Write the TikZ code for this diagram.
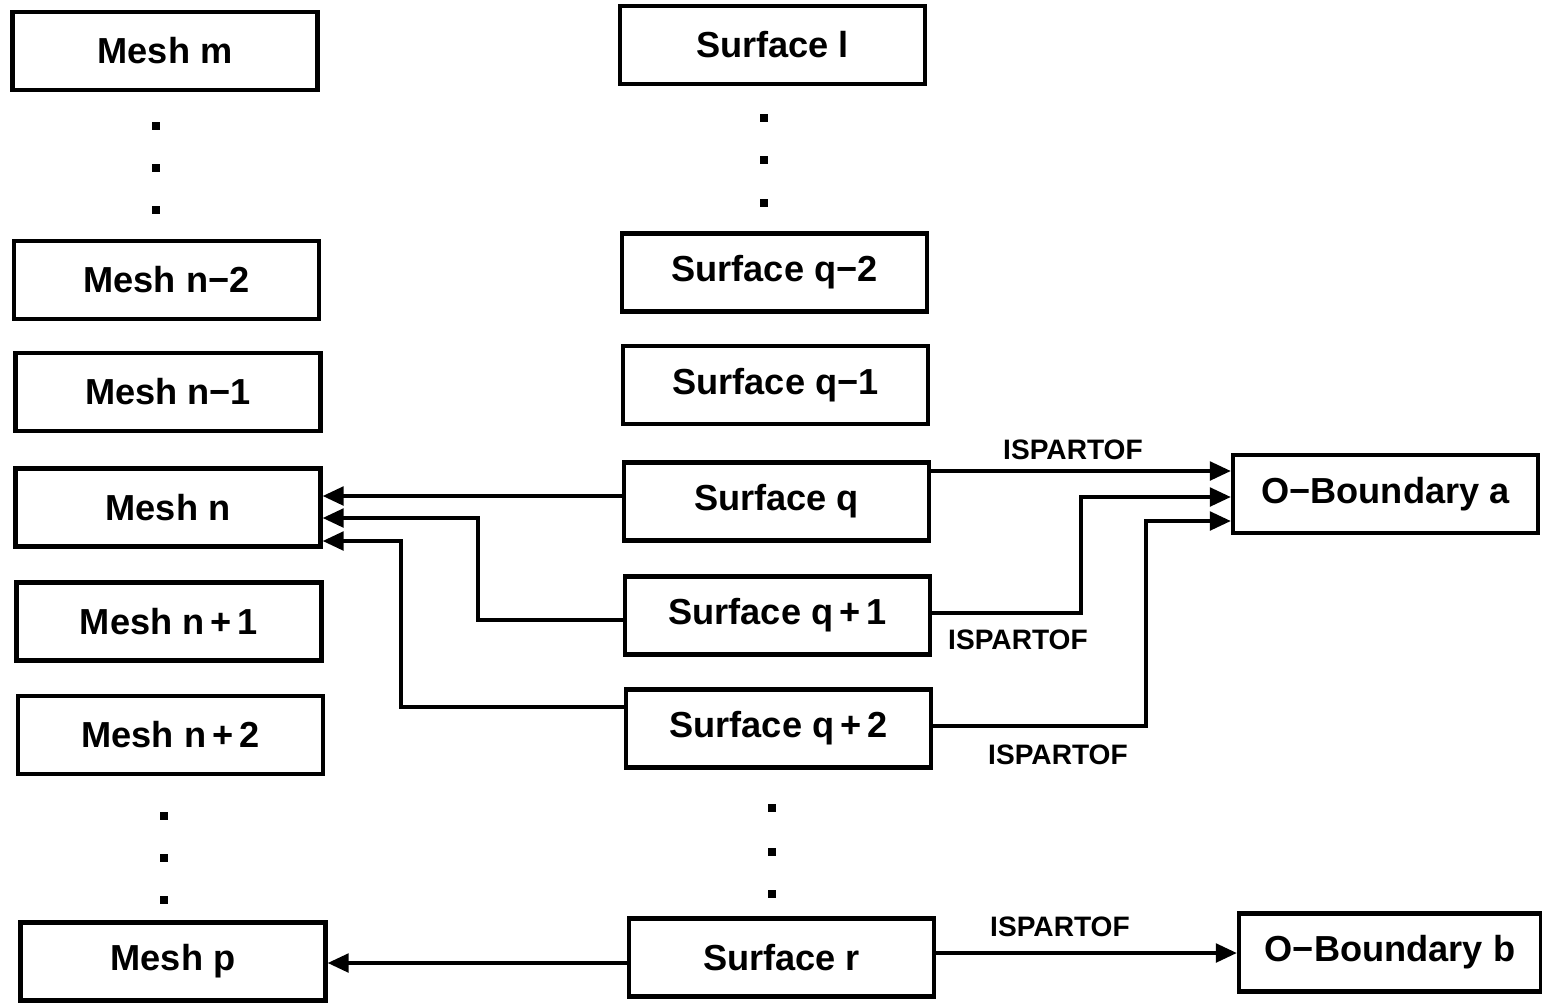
\documentclass[tikz,border=0pt]{standalone}
\usepackage{fontspec}
\setmainfont{Liberation Sans}
\usetikzlibrary{arrows.meta}
\begin{document}
\begin{tikzpicture}[x=0.02cm,y=-0.02cm,
  box/.style={draw,line width=2.4pt,minimum width=6.1cm,minimum height=1.56cm,inner sep=0pt,font=\fontsize{20.6}{24}\selectfont\bfseries},
  arr/.style={line width=2.3pt,-{Triangle[length=12pt,width=10.5pt]}},
  lbl/.style={font=\fontsize{16}{19}\selectfont\bfseries,inner sep=0pt},
  dot/.style={fill=black,inner sep=0pt,minimum size=4.2pt,rectangle}]
\useasboundingbox (0,0) rectangle (1542,1002);
% mesh column
\node[box] (mm) at (165,51) {Mesh m};
\node[box] (mn2) at (166.5,280) {Mesh n−2};
\node[box] (mn1) at (168,392) {Mesh n−1};
\node[box] (mn) at (168,507.5) {Mesh n};
\node[box] (mnp1) at (169,621.5) {Mesh n\,+\,1};
\node[box] (mnp2) at (170.5,735) {Mesh n\,+\,2};
\node[box] (mp) at (173,961.5) {Mesh p};
\foreach \y in {126,168,210} \node[dot] at (156,\y) {};
\foreach \y in {816,858,900} \node[dot] at (164,\y) {};
% surface column
\node[box] (sl) at (772.5,45) {Surface l};
\node[box] (sq2) at (774.5,272.5) {Surface q−2};
\node[box] (sq1) at (775.5,385) {Surface q−1};
\node[box] (sq) at (776.5,501.5) {Surface q};
\node[box] (sq1p) at (777.5,615.5) {Surface q\,+\,1};
\node[box] (sq2p) at (778.5,728.5) {Surface q\,+\,2};
\node[box] (sr) at (781.5,957.5) {Surface r};
\foreach \y in {118,160,203} \node[dot] at (764,\y) {};
\foreach \y in {808,852,894} \node[dot] at (772,\y) {};
% boundaries
\node[box] (oa) at (1385.5,494) {O−Boundary a};
\node[box,minimum width=6.04cm] (ob) at (1390,952.5) {O−Boundary b};
% left arrows
\draw[arr] (sq.west |- 0,496) -- (mn.east |- 0,496);
\draw[arr] (sq1p.west |- 0,620) -| (478,518) -- (mn.east |- 0,518);
\draw[arr] (sq2p.west |- 0,707) -| (401,541) -- (mn.east |- 0,541);
\draw[arr] (sr.west |- 0,963) -- (mp.east |- 0,963);
% right arrows
\draw[arr] (sq.east |- 0,471) -- (oa.west |- 0,471);
\draw[arr] (sq1p.east |- 0,613) -| (1081,497) -- (oa.west |- 0,497);
\draw[arr] (sq2p.east |- 0,726) -| (1146,521) -- (oa.west |- 0,521);
\draw[arr] (sr.east |- 0,953) -- (ob.west |- 0,953);
% labels
\node[lbl] (l1) at (1073,450) {ISPARTOF};
\node[lbl] (l2) at (1018,640) {ISPARTOF};
\node[lbl] (l3) at (1058,755) {ISPARTOF};
\node[lbl] (l4) at (1060,927) {ISPARTOF};
\end{tikzpicture}
\end{document}
